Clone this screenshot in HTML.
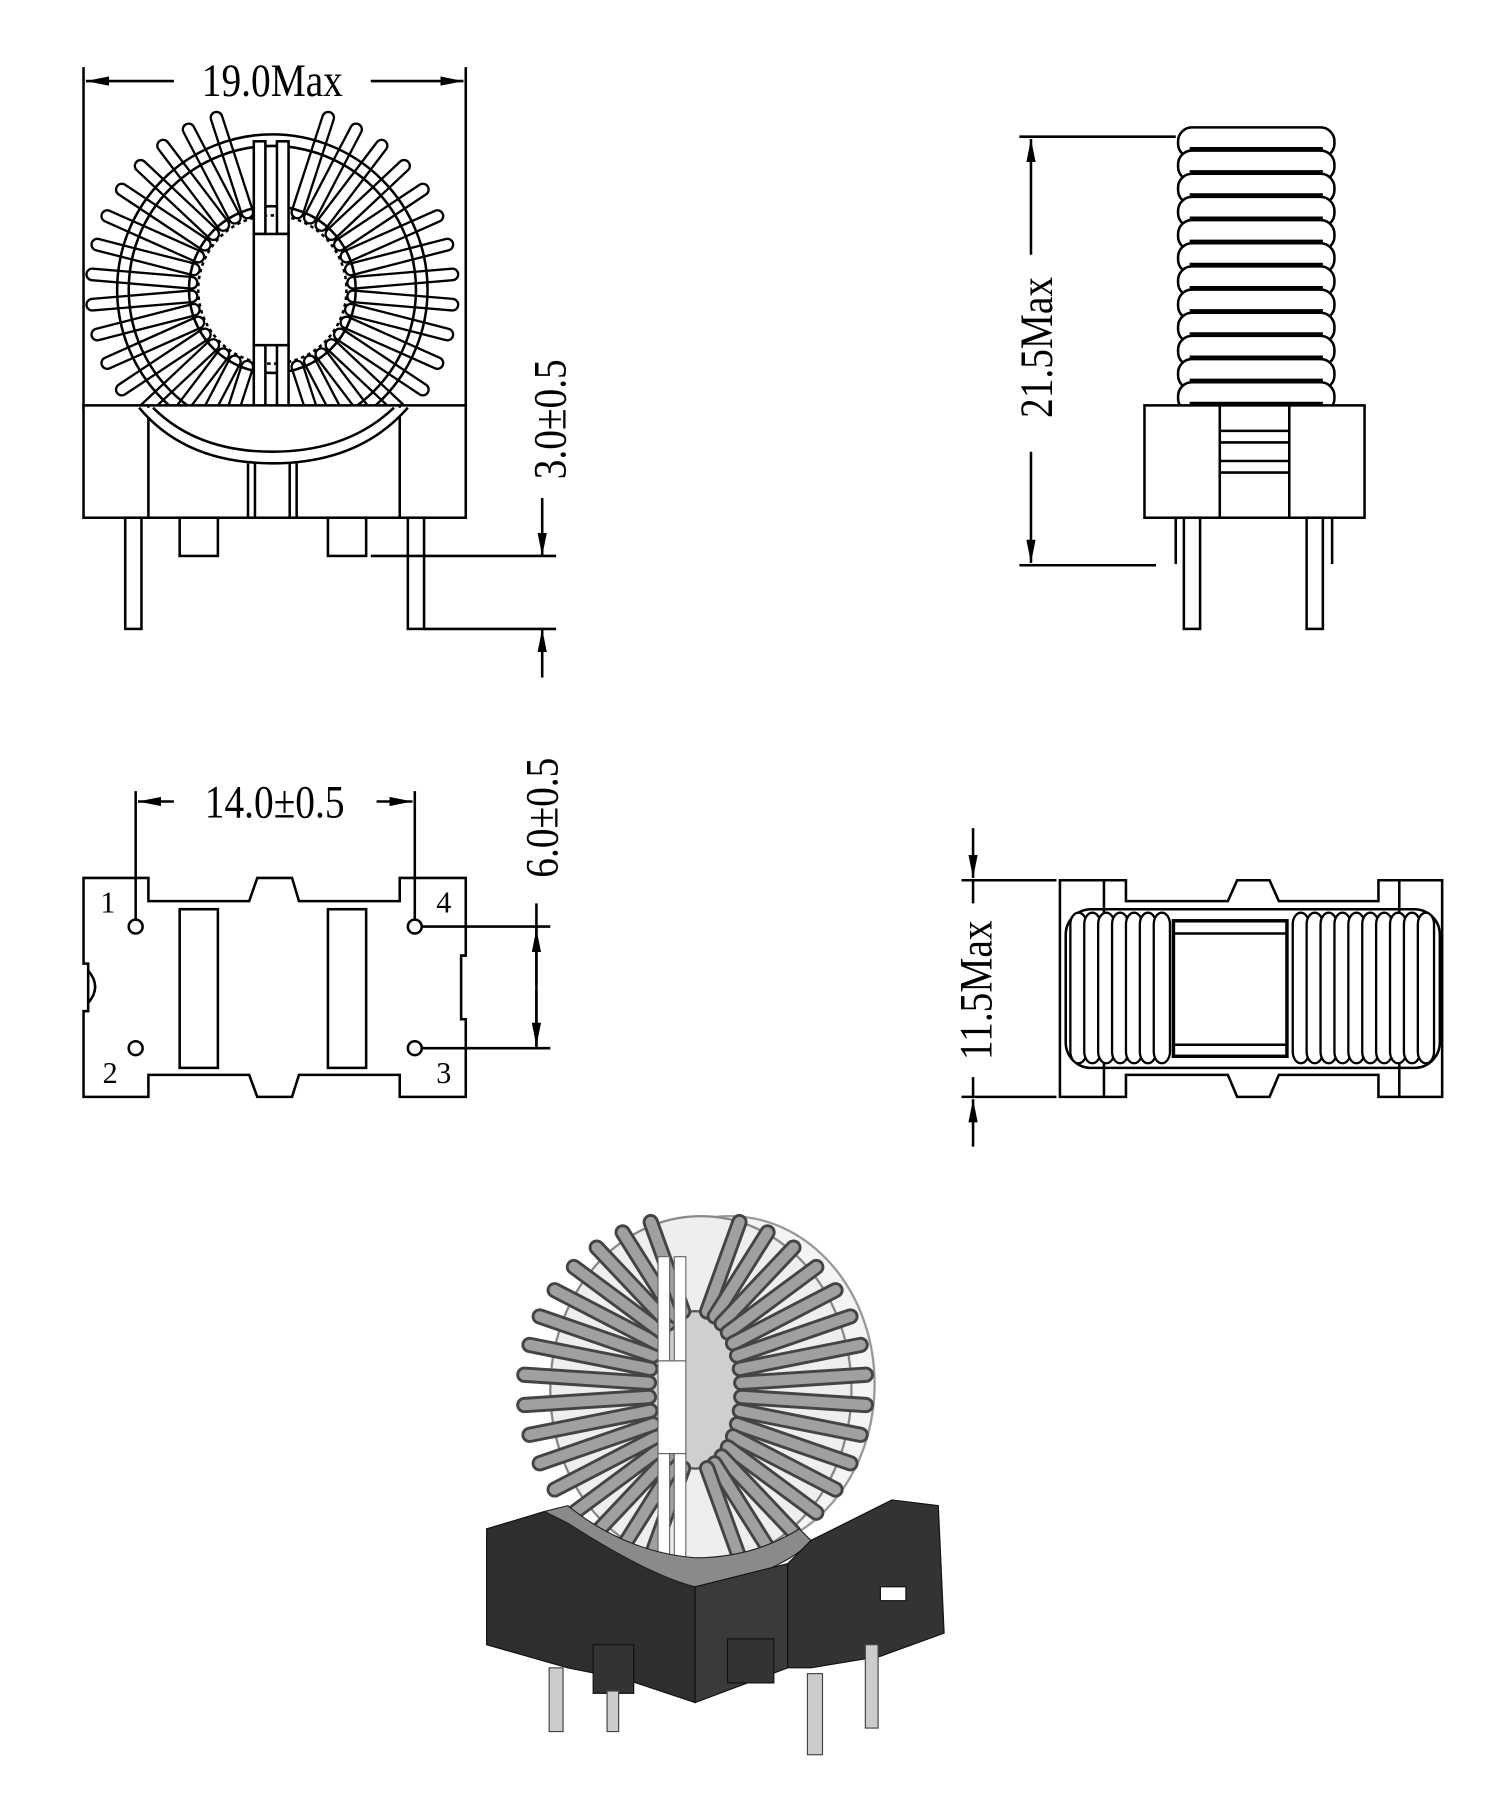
<!DOCTYPE html>
<html><head><meta charset="utf-8"><style>
html,body{margin:0;padding:0;background:#fff}
svg{display:block}
text{font-family:"Liberation Serif",serif;fill:#000}
</style></head><body>
<svg id="s" width="1506" height="1808" viewBox="0 0 1300 1561" xmlns="http://www.w3.org/2000/svg">
<defs>
<marker id="a" viewBox="0 0 20 8" refX="20" refY="4" markerWidth="20" markerHeight="8" markerUnits="userSpaceOnUse" orient="auto"><path d="M0,0 L20,4 L0,8 Z" fill="#000"/></marker>
</defs>
<rect width="1300" height="1561" fill="#fff"/>
<g fill="none" stroke="#000" stroke-width="2.2">
<line x1="72" y1="58" x2="72" y2="355"/>
<line x1="402" y1="58" x2="402" y2="355"/>
<line x1="150" y1="70" x2="74" y2="70" marker-end="url(#a)"/>
<line x1="320" y1="70" x2="400" y2="70" marker-end="url(#a)"/>
<g id="spk"></g>
<circle cx="235" cy="250" r="134"/>
<circle cx="235" cy="250" r="124"/>
<circle cx="235" cy="250" r="72"/>
<circle cx="235" cy="250" r="64" stroke-dasharray="3 3"/>
<rect x="219" y="122" width="10" height="80" fill="#fff"/>
<rect x="239" y="122" width="10" height="80" fill="#fff"/>
<rect x="219" y="298" width="10" height="100" fill="#fff"/>
<rect x="239" y="298" width="10" height="100" fill="#fff"/>
<rect x="219" y="202" width="30" height="96" fill="#fff"/>
<rect x="72" y="350" width="330" height="97" fill="#fff"/>
<line x1="128" y1="350" x2="128" y2="447"/>
<line x1="345" y1="350" x2="345" y2="447"/>
<line x1="214" y1="400" x2="214" y2="447"/>
<line x1="220" y1="400" x2="220" y2="447"/>
<line x1="250" y1="400" x2="250" y2="447"/>
<line x1="256" y1="400" x2="256" y2="447"/>
<path d="M120,352 Q160,400 235,400 Q310,400 352,352" fill="#fff"/>
<path d="M132,352 Q170,390 235,390 Q300,390 340,352"/>
<rect x="108" y="447" width="14" height="96"/>
<rect x="352" y="447" width="14" height="96"/>
<rect x="155" y="447" width="33" height="33"/>
<rect x="283" y="447" width="33" height="33"/>
<line x1="320" y1="480" x2="480" y2="480"/>
<line x1="366" y1="543" x2="480" y2="543"/>
<line x1="468" y1="430" x2="468" y2="480" marker-end="url(#a)"/>
<line x1="468" y1="585" x2="468" y2="543" marker-end="url(#a)"/>
<g id="side"></g>
<rect x="988" y="350" width="190" height="97" fill="#fff"/>
<line x1="1053" y1="350" x2="1053" y2="447"/>
<line x1="1113" y1="350" x2="1113" y2="447"/>
<line x1="1053" y1="372" x2="1113" y2="372"/>
<line x1="1053" y1="382" x2="1113" y2="382"/>
<line x1="1053" y1="398" x2="1113" y2="398"/>
<line x1="1053" y1="408" x2="1113" y2="408"/>
<line x1="1015" y1="447" x2="1015" y2="487"/>
<line x1="1150" y1="447" x2="1150" y2="487"/>
<rect x="1022" y="447" width="14" height="96"/>
<rect x="1128" y="447" width="14" height="96"/>
<line x1="880" y1="118" x2="1015" y2="118"/>
<line x1="880" y1="488" x2="998" y2="488"/>
<line x1="890" y1="220" x2="890" y2="120" marker-end="url(#a)"/>
<line x1="890" y1="390" x2="890" y2="486" marker-end="url(#a)"/>
<path d="M72,758 L128,758 L128,778 L215,778 L222,758 L252,758 L258,778 L345,778 L345,758 L402,758 L402,825 L398,825 L398,880 L402,880 L402,947 L345,947 L345,928 L258,928 L252,947 L222,947 L215,928 L128,928 L128,947 L72,947 L72,873 L76,873 L76,832 L72,832 Z"/>
<path d="M76,838 Q88,852 76,866"/>
<circle cx="117" cy="800" r="6"/>
<circle cx="117" cy="905" r="6"/>
<circle cx="358" cy="800" r="6"/>
<circle cx="358" cy="905" r="6"/>
<rect x="155" y="785" width="33" height="137"/>
<rect x="283" y="785" width="33" height="137"/>
<line x1="117" y1="683" x2="117" y2="794"/>
<line x1="358" y1="683" x2="358" y2="794"/>
<line x1="150" y1="692" x2="119" y2="692" marker-end="url(#a)"/>
<line x1="325" y1="692" x2="356" y2="692" marker-end="url(#a)"/>
<line x1="365" y1="800" x2="475" y2="800"/>
<line x1="365" y1="905" x2="475" y2="905"/>
<line x1="463" y1="780" x2="463" y2="905"/>
<line x1="463" y1="850" x2="463" y2="802" marker-end="url(#a)"/>
<line x1="463" y1="855" x2="463" y2="903" marker-end="url(#a)"/>
<path d="M915,760 L972,760 L972,778 L1060,778 L1068,760 L1096,760 L1104,778 L1190,778 L1190,760 L1245,760 L1245,947 L1190,947 L1190,928 L1104,928 L1096,947 L1068,947 L1060,928 L972,928 L972,947 L915,947 Z"/>
<line x1="953" y1="760" x2="953" y2="947"/>
<line x1="1208" y1="760" x2="1208" y2="947"/>
<rect x="920" y="785" width="323" height="137" rx="22"/>
<g id="bot"></g>
<rect x="1013" y="795" width="98" height="117" fill="#fff" stroke-width="3"/>
<line x1="1013" y1="806" x2="1111" y2="806"/>
<line x1="1013" y1="902" x2="1111" y2="902"/>
<line x1="830" y1="760" x2="912" y2="760"/>
<line x1="830" y1="947" x2="912" y2="947"/>
<line x1="840" y1="715" x2="840" y2="758" marker-end="url(#a)"/>
<line x1="840" y1="990" x2="840" y2="949" marker-end="url(#a)"/>
<line x1="840" y1="760" x2="840" y2="780"/>
<line x1="840" y1="930" x2="840" y2="947"/>
</g>
<g>
<text transform="translate(235,83) scale(0.85,1)" font-size="40" text-anchor="middle">19.0Max</text>
<text transform="translate(488,362) rotate(-90) scale(0.85,1)" font-size="40" text-anchor="middle">3.0±0.5</text>
<text transform="translate(908,300) rotate(-90) scale(0.85,1)" font-size="40" text-anchor="middle">21.5Max</text>
<text transform="translate(237,706) scale(0.85,1)" font-size="40" text-anchor="middle">14.0±0.5</text>
<text transform="translate(481,706) rotate(-90) scale(0.85,1)" font-size="40" text-anchor="middle">6.0±0.5</text>
<text transform="translate(856,855) rotate(-90) scale(0.85,1)" font-size="40" text-anchor="middle">11.5Max</text>
</g>
<text x="93" y="788" font-size="26" text-anchor="middle">1</text>
<text x="383" y="788" font-size="26" text-anchor="middle">4</text>
<text x="95" y="935" font-size="26" text-anchor="middle">2</text>
<text x="383" y="935" font-size="26" text-anchor="middle">3</text>
<g id="d3">
<ellipse cx="630" cy="1195" rx="125" ry="145" fill="#f4f4f4" stroke="#999" stroke-width="2"/>
<ellipse cx="605" cy="1200" rx="130" ry="150" fill="#eeeeee" stroke="#888" stroke-width="2"/>
<ellipse cx="600" cy="1200" rx="38" ry="68" fill="#cfcfcf" stroke="#555" stroke-width="2"/>
<g id="w3"></g>
<rect x="568" y="1085" width="10" height="90" fill="#fff" stroke="#666"/>
<rect x="582" y="1085" width="10" height="90" fill="#fff" stroke="#666"/>
<rect x="568" y="1175" width="24" height="80" fill="#fff" stroke="#666"/>
<rect x="568" y="1255" width="10" height="90" fill="#fff" stroke="#666"/>
<rect x="582" y="1255" width="10" height="90" fill="#fff" stroke="#666"/>
<path d="M420,1320 L470,1305 L490,1315 Q560,1360 600,1370 L600,1470 L540,1450 L490,1440 L420,1420 Z" fill="#2e2e2e" stroke="#111"/>
<path d="M470,1305 L490,1315 Q560,1360 600,1370 L640,1365 Q690,1345 700,1330 L690,1320 Q650,1345 600,1345 Q540,1340 490,1300 Z" fill="#8a8a8a" stroke="#222"/>
<path d="M600,1370 L680,1350 L680,1440 L600,1470 Z" fill="#3a3a3a" stroke="#111"/>
<path d="M700,1330 L770,1295 L810,1300 L815,1410 L760,1430 L700,1440 L680,1440 L680,1350 Z" fill="#333" stroke="#111"/>
<rect x="760" y="1370" width="22" height="12" fill="#fff" stroke="#111"/>
<rect x="512" y="1420" width="35" height="42" fill="#333" stroke="#111"/>
<rect x="628" y="1415" width="40" height="38" fill="#333" stroke="#111"/>
<rect x="474" y="1440" width="12" height="55" fill="#ccc" stroke="#444"/>
<rect x="524" y="1460" width="10" height="35" fill="#ccc" stroke="#444"/>
<rect x="697" y="1445" width="13" height="70" fill="#ccc" stroke="#444"/>
<rect x="747" y="1420" width="11" height="72" fill="#ccc" stroke="#444"/>
</g>
</svg>
<script>
(function(){
var NS="http://www.w3.org/2000/svg";
function el(p,t,a){var e=document.createElementNS(NS,t);for(var k in a)e.setAttribute(k,a[k]);p.appendChild(e);return e;}
var g=document.getElementById('spk');
var cx=235,cy=250;
var angs=[];
for(var i=0;i<16;i++){angs.push(-72+i*9.6);angs.push(108+i*9.6);}
angs.forEach(function(a){
 var r=a*Math.PI/180, c=Math.cos(r), s=Math.sin(r);
 var x1=cx+70*c,y1=cy+70*s,x2=cx+156*c,y2=cy+156*s;
 el(g,'line',{x1:x1,y1:y1,x2:x2,y2:y2,stroke:'#000','stroke-width':12,'stroke-linecap':'round'});
 el(g,'line',{x1:x1,y1:y1,x2:x2,y2:y2,stroke:'#fff','stroke-width':8,'stroke-linecap':'round'});
});
var sd=document.getElementById('side');
for(var j=0;j<12;j++){
 var y=110+j*20;
 el(sd,'rect',{x:1017,y:y,width:135,height:26,rx:12,fill:'#fff'});
 el(sd,'line',{x1:1027,y1:y+18,x2:1142,y2:y+18});
}
var b=document.getElementById('bot');
[930,942,954,966,978,990,1002,1122,1134,1146,1158,1170,1182,1194,1206,1218,1230].forEach(function(x,k){
 el(b,'rect',{x:x-6,y:788,width:14,height:130,rx:10,fill:'#fff','stroke-width':2});
});
var w=document.getElementById('w3');
for(var i=0;i<36;i++){
 var a=(-85+i*10)*Math.PI/180;
 if(Math.abs(Math.cos(a))<0.2)continue;
 var c=Math.cos(a),s=Math.sin(a);
 var x1=600+40*c,y1=1200+70*s,x2=600+148*c,y2=1200+150*s;
 el(w,'line',{x1:x1,y1:y1,x2:x2,y2:y2,stroke:'#444','stroke-width':14,'stroke-linecap':'round'});
 el(w,'line',{x1:x1,y1:y1,x2:x2,y2:y2,stroke:'#a0a0a0','stroke-width':9,'stroke-linecap':'round'});
}
})();
</script>
</body></html>
